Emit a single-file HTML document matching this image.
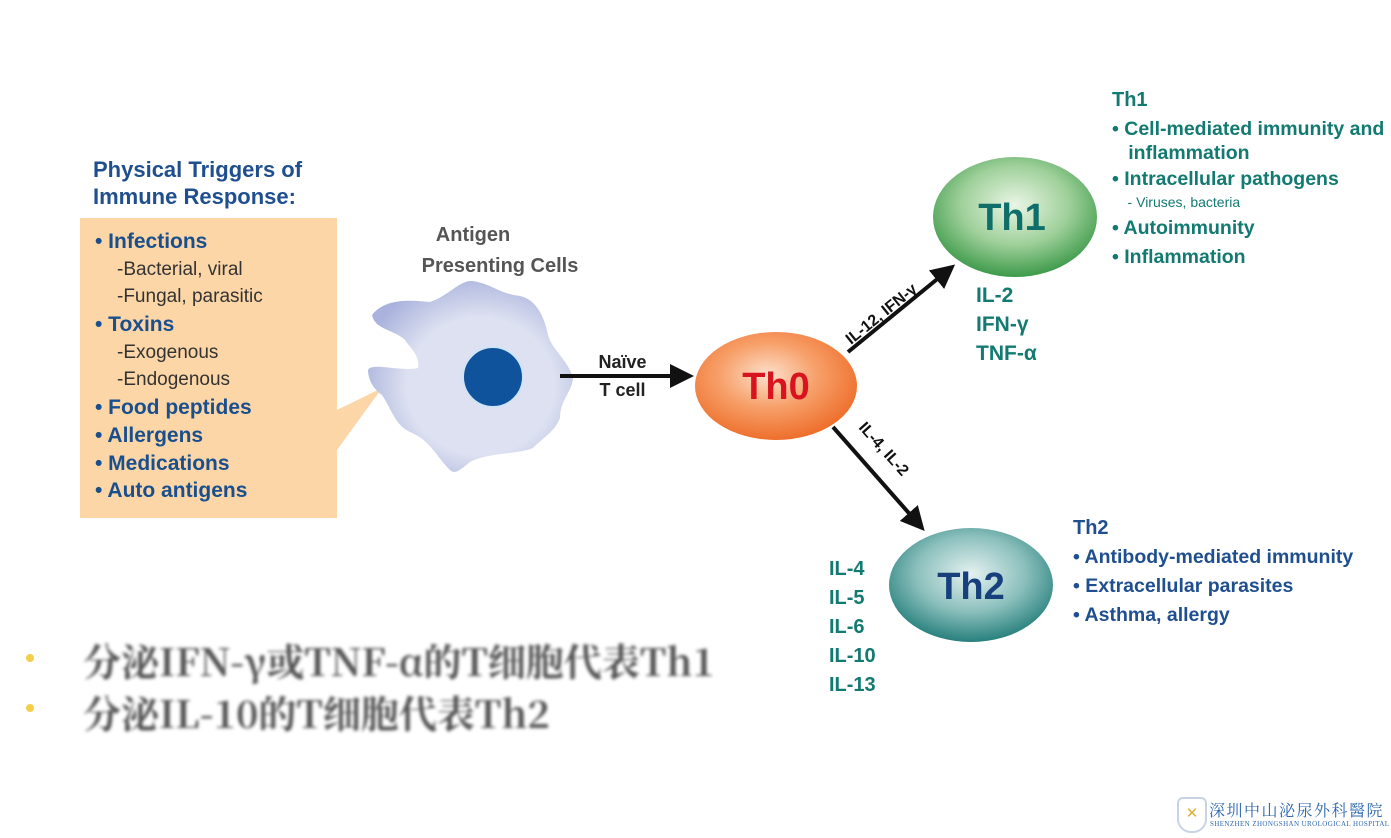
<!DOCTYPE html>
<html><head><meta charset="utf-8"><style>
body{margin:0;width:1391px;height:838px;background:#fff;overflow:hidden;position:relative;font-family:"Liberation Sans","Noto Sans CJK SC",sans-serif}
.t{position:absolute;white-space:nowrap;font-weight:bold}
.L div{height:27.7px;line-height:27.7px}
.s{font-weight:normal;font-size:19px;color:#333;padding-left:22px}
</style></head><body>
<svg width="1391" height="838" style="position:absolute;left:0;top:0">
<defs>
<radialGradient id="go" cx="45%" cy="40%" r="60%"><stop offset="0" stop-color="#fde0cc"/><stop offset="0.5" stop-color="#f7a06a"/><stop offset="1" stop-color="#ee6f2c"/></radialGradient>
<radialGradient id="gg" cx="50%" cy="40%" r="60%"><stop offset="0" stop-color="#eaf5e6"/><stop offset="0.55" stop-color="#9fd09a"/><stop offset="1" stop-color="#3d9a4a"/></radialGradient>
<radialGradient id="gt" cx="50%" cy="40%" r="60%"><stop offset="0" stop-color="#e4f1f0"/><stop offset="0.55" stop-color="#8cc0bd"/><stop offset="1" stop-color="#27807d"/></radialGradient>
<radialGradient id="gc" cx="55%" cy="55%" r="60%"><stop offset="0.6" stop-color="#dde1f1"/><stop offset="1" stop-color="#a9b2dc"/></radialGradient>
<marker id="ah" markerWidth="6" markerHeight="6" refX="5" refY="3" orient="auto" markerUnits="strokeWidth"><path d="M0,0 L6,3 L0,6 Z" fill="#111"/></marker>
</defs>
<rect x="80" y="218" width="257" height="300" fill="#fcd6a6"/>
<polygon points="337,410 337,450 382,388" fill="#fcd6a6"/>
<path d="M372,315 C385,298 410,300 430,302 C448,296 460,280 472,281 C490,283 500,294 520,296 C538,300 545,320 548,335 C552,350 568,360 573,378 C572,392 560,400 560,418 C555,432 540,440 533,448 C515,455 490,452 470,462 C460,470 455,475 450,470 C435,455 430,440 410,432 C395,425 392,410 382,395 C372,388 368,378 368,370 C372,362 400,372 418,368 C420,355 410,348 405,340 C395,330 375,330 372,315 Z" fill="url(#gc)"/>
<circle cx="493" cy="377" r="30" fill="#0f539c" stroke="#cfe4f7" stroke-width="2"/>
<line x1="560" y1="376" x2="690" y2="376" stroke="#111" stroke-width="4" marker-end="url(#ah)"/>
<line x1="848" y1="352" x2="952" y2="267" stroke="#111" stroke-width="4" marker-end="url(#ah)"/>
<line x1="833" y1="427" x2="922" y2="528" stroke="#111" stroke-width="4" marker-end="url(#ah)"/>
<ellipse cx="776" cy="386" rx="81" ry="54" fill="url(#go)"/>
<ellipse cx="1015" cy="217" rx="82" ry="60" fill="url(#gg)"/>
<ellipse cx="971" cy="585" rx="82" ry="57" fill="url(#gt)"/>
<text x="776" y="399" text-anchor="middle" font-family="Liberation Sans" font-weight="bold" font-size="38" fill="#d8141e">Th0</text>
<text x="1012" y="230" text-anchor="middle" font-family="Liberation Sans" font-weight="bold" font-size="38" fill="#0f6e6a">Th1</text>
<text x="971" y="599" text-anchor="middle" font-family="Liberation Sans" font-weight="bold" font-size="38" fill="#173f7c">Th2</text>
<text transform="translate(851,345) rotate(-39)" font-family="Liberation Sans" font-weight="bold" font-size="16" fill="#111">IL-12, IFN-γ</text>
<text transform="translate(858,428) rotate(48)" font-family="Liberation Sans" font-weight="bold" font-size="16" fill="#111">IL-4, IL-2</text>
<circle cx="30" cy="658" r="4" fill="#f3c21c" opacity="0.8"/>
<circle cx="30" cy="708" r="4" fill="#f3c21c" opacity="0.8"/>
</svg>
<div class="t" style="left:93px;top:156px;font-size:22px;color:#1f4f8f;line-height:27px">Physical Triggers of<br>Immune Response:</div>
<div class="t L" style="left:95px;top:228px;font-size:21px;color:#1a4f8e">
<div>• Infections</div><div class="s">-Bacterial, viral</div><div class="s">-Fungal, parasitic</div><div>• Toxins</div><div class="s">-Exogenous</div><div class="s">-Endogenous</div><div>• Food peptides</div><div>• Allergens</div><div>• Medications</div><div>• Auto antigens</div></div>
<div class="t" style="left:385px;top:220px;width:230px;text-align:center;font-size:20px;color:#555;line-height:31px"><span style="position:relative;left:-27px">Antigen</span><br>Presenting Cells</div>
<div class="t" style="left:580px;top:348px;width:85px;text-align:center;font-size:18px;color:#222;line-height:28px">Naïve<br>T cell</div>
<div class="t" style="left:976px;top:281px;font-size:21px;color:#137a72;line-height:29px">IL-2<br>IFN-γ<br>TNF-α</div>
<div class="t" style="left:1112px;top:88px;font-size:20px;color:#137a72;line-height:24px">Th1<br>
<span style="font-size:19.5px;position:relative;top:5px">• Cell-mediated immunity and<br>&nbsp;&nbsp;&nbsp;inflammation</span></div>
<div class="t" style="left:1112px;top:168px;font-size:19.5px;color:#137a72;line-height:22px">• Intracellular pathogens<br><span style="font-weight:normal;font-size:14px">&nbsp;&nbsp;&nbsp;&nbsp;- Viruses, bacteria</span></div>
<div class="t" style="left:1112px;top:214px;font-size:19.5px;color:#137a72;line-height:29px">• Autoimmunity<br>• Inflammation</div>
<div class="t" style="left:1073px;top:514px;font-size:20px;color:#1f4f8f;line-height:29px">Th2<br><span style="font-size:19.5px">• Antibody-mediated immunity<br>• Extracellular parasites<br>• Asthma, allergy</span></div>
<div class="t" style="left:829px;top:555px;font-size:20px;color:#137a72;line-height:29px">IL-4<br>IL-5<br>IL-6<br>IL-10<br>IL-13</div>
<div style="position:absolute;left:83px;top:634px;font-family:'Noto Serif CJK SC',serif;font-weight:bold;font-size:38px;color:#555;line-height:52px;filter:blur(1.5px);white-space:nowrap">分泌IFN-γ或TNF-α的T细胞代表Th1<br>分泌IL-10的T细胞代表Th2</div>
<div style="position:absolute;left:1177px;top:797px;width:26px;height:32px;border:2px solid #c8d4e4;border-radius:6px 6px 14px 14px;color:#d8b33a;font-size:15px;text-align:center;line-height:30px">✕</div>
<div style="position:absolute;left:1209px;top:798px;font-family:'Noto Serif CJK SC',serif;font-size:16px;color:#2f68b0;letter-spacing:1.5px;white-space:nowrap">深圳中山泌尿外科醫院</div>
<div style="position:absolute;left:1210px;top:820px;font-family:'Liberation Serif',serif;font-size:7px;color:#2f68b0;white-space:nowrap;letter-spacing:0.4px">SHENZHEN ZHONGSHAN UROLOGICAL HOSPITAL</div>
</body></html>
